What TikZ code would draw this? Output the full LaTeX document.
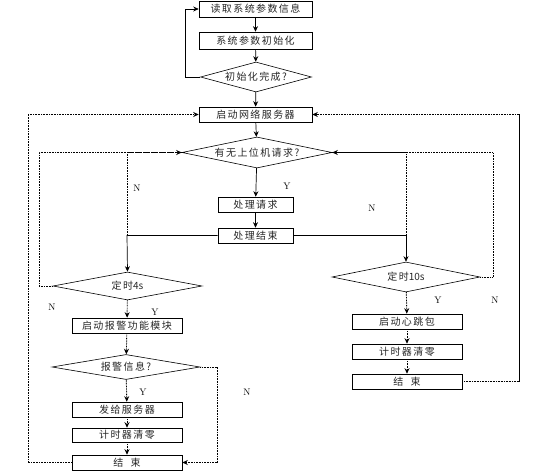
\documentclass[tikz,border=0pt]{standalone}
\usepackage{fontspec}
\newfontfamily\cjk[LetterSpace=14]{Noto Sans CJK SC}
\newfontfamily\cjkn{Noto Sans CJK SC}
\usetikzlibrary{shapes.geometric,arrows.meta}
\tikzset{
  base/.style={font=\cjk\fontsize{10}{11}\selectfont, line width=0.6pt, inner sep=0pt, text=black!85},
  pbox/.style={base, draw, rectangle, minimum height=15pt},
  dbox/.style={base, draw, diamond, aspect=4.5},
  sline/.style={line width=0.7pt},
  dline/.style={line width=0.9pt, dash pattern=on 0.8pt off 0.8pt},
  arr/.style={-{Stealth[length=5.5pt,width=5pt]}},
  lbl/.style={font=\fontsize{9.5}{10}\selectfont, inner sep=0pt}
}
\begin{document}
\begin{tikzpicture}[x=1pt,y=-1pt]
\useasboundingbox (0,0) rectangle (533,473);
% nodes
\node[pbox, minimum width=113pt, minimum height=16pt] (b1) at (255.5,9) {读取系统参数信息};
\node[pbox, minimum width=113pt, minimum height=17pt] (b2) at (255.5,40.5) {系统参数初始化};
\node[dbox, minimum width=111pt, minimum height=30pt] (d1) at (256,77) {初始化完成?};
\node[pbox, minimum width=113pt] (b3) at (255.5,114.5) {启动网络服务器};
\node[dbox, minimum width=150pt, minimum height=31pt] (d2) at (257,152.5) {有无上位机请求?};
\node[pbox, minimum width=75pt] (b4) at (255.5,204.5) {处理请求};
\node[pbox, minimum width=75pt] (b5) at (255.5,235.5) {处理结束};
\node[dbox, minimum width=149pt, minimum height=28pt] (d3) at (127.5,286) {定时{\cjkn 4s}};
\node[dbox, minimum width=148pt, minimum height=30pt] (d4) at (406,277) {定时{\cjkn 10s}};
\node[pbox, minimum width=110pt] (b6) at (127,325.5) {启动报警功能模块};
\node[dbox, minimum width=148pt, minimum height=25pt] (d5) at (126,367) {报警信息?};
\node[pbox, minimum width=110pt] (b7) at (127,409.5) {发给服务器};
\node[pbox, minimum width=110pt, minimum height=14pt] (b8) at (127,435) {计时器清零};
\node[pbox, minimum width=110pt] (b9) at (127,462.5) {结\ \ 束};
\node[pbox, minimum width=110pt] (b10) at (407,321.5) {启动心跳包};
\node[pbox, minimum width=110pt] (b11) at (407,351.5) {计时器清零};
\node[pbox, minimum width=110pt] (b12) at (407,381.5) {结\ \ 束};
% coordinates
\coordinate (c1) at (185,77);
\coordinate (c2) at (185,9);
\coordinate (nl) at (127,152.5);
\coordinate (nr) at (406,152.5);
\coordinate (ll1) at (39,286);
\coordinate (ll2) at (39,152.5);
\coordinate (rl1) at (493,277);
\coordinate (rl2) at (493,152.5);
\coordinate (ol1) at (28,462.5);
\coordinate (ol2) at (28,114.5);
\coordinate (or1) at (519,381.5);
\coordinate (or2) at (519,114.5);
\coordinate (al1) at (217,367);
\coordinate (al2) at (217,462.5);
\coordinate (ml) at (127,235.5);
\coordinate (mr) at (406,235.5);
% connectors
\draw[sline,arr] (b1) -- (b2);
\draw[sline,arr] (b2) -- (d1);
\draw[sline,arr] (d1.west) -- (c1) -- (c2) -- (b1.west);
\draw[sline,arr] (d1) -- (b3);
\draw[sline,arr] (b3) -- (d2);
\draw[sline,arr] (d2) -- (b4);
\draw[sline,arr] (b4) -- (b5);
\draw[sline,arr] (b5.west) -- (ml) -- (d3.north);
\draw[sline,arr] (b5.east) -- (mr) -- (d4.north);
\draw[dline] (d2.west) -- (nl) -- (ml);
\draw[dline] (d2.east) -- (nr) -- (mr);
\draw[dline,arr] (d3.west) -- (ll1) -- (ll2) -- (d2.west);
\draw[dline,arr] (d4.east) -- (rl1) -- (rl2) -- (d2.east);
\draw[dline,arr] (d3) -- (b6);
\draw[dline,arr] (b6) -- (d5);
\draw[dline,arr] (d5) -- (b7);
\draw[dline,arr] (b7) -- (b8);
\draw[dline,arr] (b8) -- (b9);
\draw[dline,arr] (d5.east) -- (al1) -- (al2) -- (b9.east);
\draw[dline,arr] (b9.west) -- (ol1) -- (ol2) -- (b3.west);
\draw[dline,arr] (d4) -- (b10);
\draw[dline,arr] (b10) -- (b11);
\draw[dline,arr] (b11) -- (b12);
\draw[dline] (b12.east) -- (or1);
\draw[sline] (or1) -- (or2);
\draw[dline,arr] (or2) -- (b3.east);
% labels
\node[lbl] (n1) at (137,188) {N};
\node[lbl] (y1) at (287,186) {Y};
\node[lbl] (n2) at (372,208) {N};
\node[lbl] (n3) at (52,307) {N};
\node[lbl] (y2) at (155,312) {Y};
\node[lbl] (y3) at (438,300) {Y};
\node[lbl] (n4) at (495,300) {N};
\node[lbl] (y4) at (143,392) {Y};
\node[lbl] (n5) at (247,392) {N};
\end{tikzpicture}
\end{document}
